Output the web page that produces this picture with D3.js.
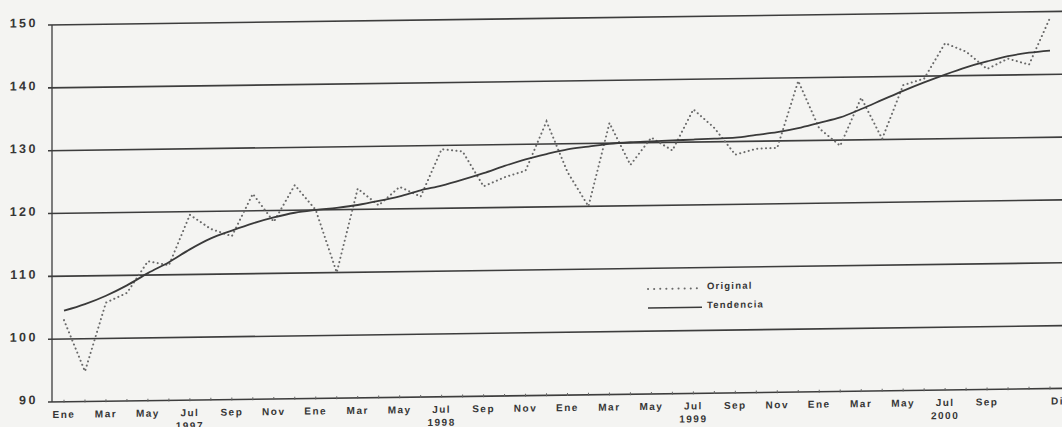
<!DOCTYPE html>
<html>
<head>
<meta charset="utf-8">
<script src="https://cdn.jsdelivr.net/npm/d3@7"></script>
<style>
  html, body { margin: 0; padding: 0; background: #f4f4f2; }
  svg { display: block; }
  text { font-family: "Liberation Sans", Arial, sans-serif; font-weight: bold; fill: #363636; }
</style>
</head>
<body>
<svg id="chart" width="1062" height="427"></svg>
<script>
// monthly data, Ene 1997 .. Dic 2000
const years = ["1997", "1998", "1999", "2000"];
const yearIndex = [6, 18, 30, 42];

const tickIndex = [0, 2, 4, 6, 8, 10, 12, 14, 16, 18, 20, 22, 24, 26, 28, 30, 32, 34, 36, 38, 40, 42, 44, 47];
const tickLabels = ["Ene", "Mar", "May", "Jul", "Sep", "Nov",
                    "Ene", "Mar", "May", "Jul", "Sep", "Nov",
                    "Ene", "Mar", "May", "Jul", "Sep", "Nov",
                    "Ene", "Mar", "May", "Jul", "Sep", "Dic"];

const yTicks = [90, 100, 110, 120, 130, 140, 150];

const original = [
    103, 94.8, 105.7, 107.2, 112.2, 111.5, 119.5, 117.2, 116, 122.7, 118.2, 124,
    120, 110, 123.3, 120.6, 123.5, 121.9, 129.4, 129, 123.4, 124.8, 125.8, 133.6,
    125.5, 120, 133.2, 126.5, 130.8, 128.7, 135.2, 132.2, 127.9, 128.8, 128.9, 139.5,
    131.9, 129.1, 136.7, 130.1, 138.6, 139.6, 145.2, 143.8, 141, 142.6, 141.6, 149
];

const tendencia = [
    104.5, 105.5, 106.8, 108.4, 110.3, 112, 114, 115.7, 116.9, 118, 118.9, 119.6,
    120, 120.3, 120.7, 121.3, 122, 122.9, 123.6, 124.5, 125.5, 126.6, 127.6, 128.4,
    129.1, 129.5, 129.9, 130.1, 130.2, 130.3, 130.4, 130.5, 130.6, 131, 131.4, 132,
    132.8, 133.6, 134.9, 136.3, 137.7, 139, 140.2, 141.3, 142.2, 143, 143.5, 143.8
];

const svg = d3.select("#chart");
const width = 1062;
const axisX = 52;

const x = d3.scaleLinear().domain([0, 47]).range([64, 1050]);
const y = d3.scaleLinear().domain([90, 150]).range([402, 25]);

// the scanned page is a little skewed: everything rises to the right
const g = svg.append("g")
    .attr("transform", `translate(0,${0.0134 * axisX}) skewY(-0.77)`);

// grid lines
g.selectAll("line.grid")
    .data(yTicks)
    .enter()
    .append("line")
    .attr("class", "grid")
    .attr("x1", axisX - 4)
    .attr("x2", width + 20)
    .attr("y1", (d) => y(d))
    .attr("y2", (d) => y(d))
    .attr("stroke", "#3d3d3d")
    .style("stroke-width", "1.6px");

// vertical axis
g.append("line")
    .attr("x1", axisX).attr("x2", axisX)
    .attr("y1", y(150)).attr("y2", y(90))
    .attr("stroke", "#3d3d3d")
    .style("stroke-width", "1.3px");

// month ticks
g.selectAll("line.mtick")
    .data(d3.range(original.length))
    .enter()
    .append("line")
    .attr("class", "mtick")
    .attr("x1", (d) => x(d)).attr("x2", (d) => x(d))
    .attr("y1", y(90) - 2).attr("y2", y(90) + 1)
    .attr("stroke", "#666")
    .style("stroke-width", "1px");

// y labels
g.selectAll("text.ylab")
    .data(yTicks)
    .enter()
    .append("text")
    .attr("class", "ylab")
    .attr("x", 38)
    .attr("y", (d) => y(d) + 2)
    .style("text-anchor", "end")
    .style("font-size", "12.5px")
    .style("letter-spacing", "2.5px")
    .text((d) => d);

// x labels
g.selectAll("text.xlab")
    .data(tickIndex)
    .enter()
    .append("text")
    .attr("class", "xlab")
    .attr("x", (d, i) => i === tickIndex.length - 1 ? x(d) + 1 : x(d))
    .attr("y", y(90) + 16)
    .style("text-anchor", (d, i) => i === tickIndex.length - 1 ? "start" : "middle")
    .style("font-size", "10px")
    .style("letter-spacing", "1.5px")
    .text((d, i) => tickLabels[i]);

g.selectAll("text.year")
    .data(yearIndex)
    .enter()
    .append("text")
    .attr("class", "year")
    .attr("x", (d) => x(d))
    .attr("y", y(90) + 29)
    .style("text-anchor", "middle")
    .style("font-size", "10px")
    .style("letter-spacing", "1.5px")
    .text((d, i) => years[i]);

// series
const lineOrig = d3.line()
    .x((d, i) => x(i))
    .y((d) => y(d));

const lineTrend = d3.line()
    .x((d, i) => x(i))
    .y((d) => y(d))
    .curve(d3.curveMonotoneX);

g.append("path")
    .datum(original)
    .attr("d", lineOrig)
    .attr("fill", "none")
    .attr("stroke", "#6a6a6a")
    .attr("stroke-dasharray", "0.1 4.3")
    .attr("stroke-linecap", "round")
    .style("stroke-width", "2px");

g.append("path")
    .datum(tendencia)
    .attr("d", lineTrend)
    .attr("fill", "none")
    .attr("stroke", "#3a3a3a")
    .style("stroke-width", "1.8px");

// legend
const legend = g.append("g").attr("transform", "translate(648,297)");

legend.append("line")
    .attr("x1", 0).attr("x2", 54)
    .attr("y1", 0).attr("y2", 0)
    .attr("stroke", "#6a6a6a")
    .attr("stroke-dasharray", "0.1 6")
    .attr("stroke-linecap", "round")
    .style("stroke-width", "2px");

legend.append("line")
    .attr("x1", 0).attr("x2", 54)
    .attr("y1", 19).attr("y2", 19)
    .attr("stroke", "#3a3a3a")
    .style("stroke-width", "1.6px");

legend.append("text")
    .attr("x", 59).attr("y", 1)
    .style("font-size", "9.5px")
    .style("letter-spacing", "1.2px")
    .text("Original");

legend.append("text")
    .attr("x", 59).attr("y", 20)
    .style("font-size", "9.5px")
    .style("letter-spacing", "1.2px")
    .text("Tendencia");
</script>
</body>
</html>
